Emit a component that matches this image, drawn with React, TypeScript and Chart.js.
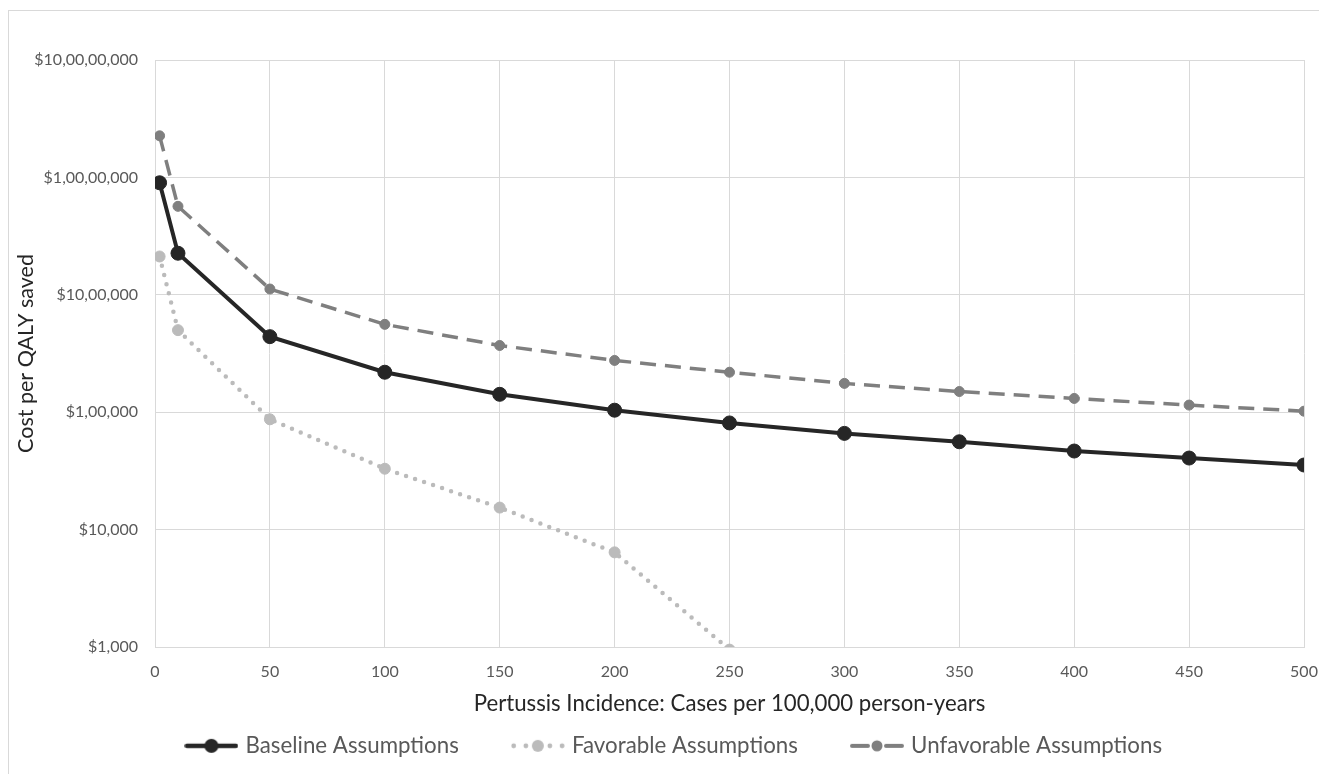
import React, { useEffect, useRef } from "react";
import { Chart, registerables } from "chart.js";

Chart.register(...registerables);

// ---- data ----
const incidence = [2, 10, 50, 100, 150, 200, 250, 300, 350, 400, 450, 500];
const baselineCost = [9.0e6, 2.26e6, 4.4e5, 2.19e5, 1.42e5, 1.04e5, 8.1e4, 6.6e4, 5.6e4, 4.67e4, 4.07e4, 3.55e4];
const favorableCost = [2.12e6, 5.0e5, 8.7e4, 3.3e4, 1.54e4, 6.4e3, 950];
const unfavorableCost = [2.26e7, 5.67e6, 1.12e6, 5.6e5, 3.7e5, 2.76e5, 2.19e5, 1.76e5, 1.5e5, 1.31e5, 1.15e5, 1.02e5];
const seriesNames = ["Baseline Assumptions", "Favorable Assumptions", "Unfavorable Assumptions"];
const yTickValues = [1000, 10000, 100000, 1000000, 10000000, 100000000];
const xTitle = "Pertussis Incidence: Cases per 100,000 person-years";
const yTitle = "Cost per QALY saved";

const FONT = "Lato, 'Open Sans', sans-serif";
const C_BASE = "#262626";
const C_FAV = "#bbbbbb";
const C_UNFAV = "#7f7f7f";
const GRID = "#d9d9d9";

function indian(n: number): string {
  const s = Math.round(n).toString();
  if (s.length <= 3) return s;
  const last3 = s.slice(-3);
  let rest = s.slice(0, -3);
  const parts: string[] = [];
  while (rest.length > 2) {
    parts.unshift(rest.slice(-2));
    rest = rest.slice(0, -2);
  }
  if (rest) parts.unshift(rest);
  return parts.join(",") + "," + last3;
}

function toPoints(ys: number[]) {
  return ys.map((y, i) => ({ x: incidence[i], y }));
}

function sampleCanvas() {
  const c = document.createElement("canvas");
  c.width = 54;
  c.height = 18;
  return c;
}

function baselineSample() {
  const c = sampleCanvas();
  const g = c.getContext("2d")!;
  g.strokeStyle = C_BASE;
  g.lineWidth = 4.5;
  g.lineCap = "round";
  g.beginPath();
  g.moveTo(2.5, 9);
  g.lineTo(51.5, 9);
  g.stroke();
  g.fillStyle = C_BASE;
  g.beginPath();
  g.arc(27, 9, 7, 0, Math.PI * 2);
  g.fill();
  return c;
}

function favorableSample() {
  const c = sampleCanvas();
  const g = c.getContext("2d")!;
  g.fillStyle = C_FAV;
  [2.8, 15, 39, 51.2].forEach((x) => {
    g.beginPath();
    g.arc(x, 9, 2.4, 0, Math.PI * 2);
    g.fill();
  });
  g.beginPath();
  g.arc(27, 9, 6, 0, Math.PI * 2);
  g.fill();
  return c;
}

function unfavorableSample() {
  const c = sampleCanvas();
  const g = c.getContext("2d")!;
  g.strokeStyle = C_UNFAV;
  g.lineWidth = 4;
  g.lineCap = "round";
  g.beginPath();
  g.moveTo(2, 9);
  g.lineTo(18, 9);
  g.moveTo(36, 9);
  g.lineTo(52, 9);
  g.stroke();
  g.fillStyle = C_UNFAV;
  g.beginPath();
  g.arc(27, 9, 5.5, 0, Math.PI * 2);
  g.fill();
  return c;
}

// shifts the bottom legend row slightly right, as in the original layout
const legendShift = {
  id: "legendShift",
  afterLayout(chart: any) {
    const lg = chart.legend;
    if (lg) {
      lg.left += 18.75;
      lg.right += 18.75;
    }
  },
};

export default function App() {
  const ref = useRef<HTMLCanvasElement>(null);

  useEffect(() => {
    document.body.style.margin = "0";
    const canvas = ref.current!;
    const samples = [baselineSample(), favorableSample(), unfavorableSample()];
    const chart = new Chart(canvas, {
      type: "line",
      data: {
        datasets: [
          {
            label: seriesNames[0],
            data: toPoints(baselineCost),
            borderColor: C_BASE,
            backgroundColor: C_BASE,
            borderWidth: 4,
            pointRadius: 7,
            pointBackgroundColor: C_BASE,
            pointBorderColor: C_BASE,
            pointBorderWidth: 1,
            tension: 0,
          },
          {
            label: seriesNames[1],
            data: toPoints(favorableCost),
            borderColor: C_FAV,
            backgroundColor: C_FAV,
            borderWidth: 4.5,
            borderDash: [0, 9.5],
            borderCapStyle: "round",
            pointRadius: 5.5,
            pointBackgroundColor: C_FAV,
            pointBorderColor: C_FAV,
            pointBorderWidth: 1,
            tension: 0,
            clip: 0,
          },
          {
            label: seriesNames[2],
            data: toPoints(unfavorableCost),
            borderColor: C_UNFAV,
            backgroundColor: C_UNFAV,
            borderWidth: 3.5,
            borderDash: [16, 9],
            pointRadius: 5,
            pointBackgroundColor: C_UNFAV,
            pointBorderColor: C_UNFAV,
            pointBorderWidth: 1,
            tension: 0,
          },
        ],
      },
      options: {
        animation: false,
        responsive: false,
        events: [],
        layout: { padding: { top: 49, left: 0, right: 15, bottom: 7 } },
        plugins: {
          tooltip: { enabled: false },
          legend: {
            position: "bottom",
            labels: {
              usePointStyle: true,
              pointStyleWidth: 46,
              padding: 56,
              color: "#595959",
              font: { family: FONT, size: 22.3 },
              generateLabels: () =>
                seriesNames.map((name, i) => ({
                  text: name,
                  pointStyle: samples[i] as any,
                  fillStyle: "rgba(0,0,0,0)",
                  strokeStyle: "rgba(0,0,0,0)",
                  lineWidth: 0,
                  hidden: false,
                  datasetIndex: i,
                  fontColor: "#595959",
                })),
            },
          },
        },
        scales: {
          x: {
            type: "linear",
            min: 0,
            max: 500,
            ticks: {
              stepSize: 50,
              padding: 15,
              color: "#595959",
              font: { family: FONT, size: 16 },
            },
            grid: { color: GRID, lineWidth: 1, drawTicks: false },
            border: { color: GRID, width: 1 },
            title: {
              display: true,
              text: xTitle,
              color: "#262626",
              font: { family: FONT, size: 22.2 },
              padding: { top: 0, bottom: -38.6 },
            },
            afterFit: (s: any) => {
              s.height = 31.7;
              s.paddingLeft = 0;
              s.paddingRight = 0;
            },
          },
          y: {
            type: "logarithmic",
            min: 1000,
            max: 100000000,
            afterBuildTicks: (s: any) => {
              s.ticks = yTickValues.map((v) => ({ value: v }));
            },
            ticks: {
              autoSkip: false,
              padding: 17,
              color: "#595959",
              font: { family: FONT, size: 16 },
              callback: (v: any) => "$" + indian(Number(v)),
            },
            grid: { color: GRID, lineWidth: 1, drawTicks: false },
            border: { color: GRID, width: 1 },
            title: {
              display: true,
              text: yTitle,
              color: "#262626",
              font: { family: FONT, size: 21.5 },
              padding: { top: 4.1, bottom: 0 },
            },
            afterFit: (s: any) => {
              s.width = 146;
            },
          },
        },
      },
      plugins: [legendShift],
    });
    return () => chart.destroy();
  }, []);

  return (
    <div
      style={{
        width: 1319,
        height: 774,
        paddingLeft: 8,
        paddingTop: 10,
        boxSizing: "border-box",
        overflow: "hidden",
      }}
    >
      <div
        style={{
          width: 1311,
          height: 764,
          borderTop: "1px solid #d9d9d9",
          borderLeft: "1px solid #d9d9d9",
          boxSizing: "border-box",
        }}
      >
        <canvas ref={ref} width={1310} height={763} style={{ display: "block", width: 1310, height: 763 }} />
      </div>
    </div>
  );
}
